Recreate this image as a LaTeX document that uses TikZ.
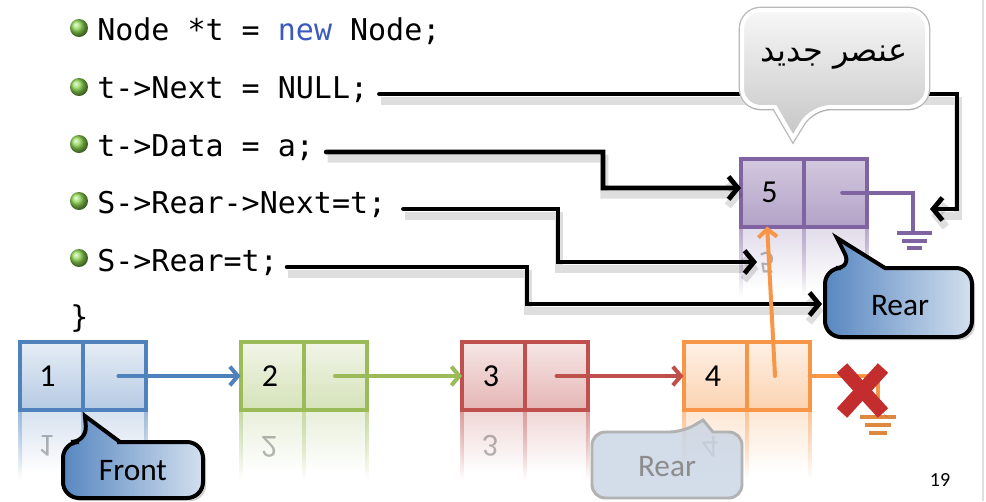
\documentclass[tikz,border=0pt]{standalone}
\usepackage{fontspec}
\usepackage{graphicx}
\setmainfont{Carlito}
\newfontfamily\codefont{DejaVu Sans Mono}
\newfontfamily\arabicfont[Script=Arabic]{DejaVu Sans}
\TeXXeTstate=1
\usetikzlibrary{arrows.meta,shadows,fadings}
\definecolor{cblue}{RGB}{79,129,189}
\definecolor{cgreen}{RGB}{155,187,89}
\definecolor{cred}{RGB}{192,80,77}
\definecolor{corange}{RGB}{247,150,70}
\definecolor{cpurple}{RGB}{128,100,162}
\definecolor{newblue}{RGB}{60,90,190}
\definecolor{bulletgreen}{RGB}{140,215,80}
\definecolor{xred}{RGB}{195,45,45}
\definecolor{oldrearfill}{RGB}{200,212,228}
\begin{document}
\begin{tikzpicture}[x=0.75pt,y=-0.75pt,
  cell/.style={draw=#1, line width=3pt, minimum width=47.25pt, minimum height=51pt,
    inner sep=0pt, outer sep=0pt, top color=#1!14!white, bottom color=#1!42!white,
    font=\fontsize{24}{28}\selectfont},
  ptr/.style={draw=#1, line width=3pt, -{Straight Barb[length=6pt,width=14pt]}, line cap=round},
  conn/.style={draw=black, line width=3.6pt, -{Straight Barb[length=7pt,width=17pt]},
    line cap=round,
    preaction={draw=black, opacity=0.13, line width=6pt, transform canvas={shift={(1pt,-5pt)}}}},
  code/.style={anchor=base west, inner sep=0pt, font=\codefont\fontsize{22.5}{27}\selectfont},
  gnd/.style={draw=#1, line width=3pt},
  bluecall/.style={draw=black, line width=3pt, left color=cblue!95!white, right color=cblue!25!white,
    drop shadow={opacity=0.35}},
  graycall/.style={top color=gray!6, bottom color=gray!45, draw=white, line width=3pt,
    preaction={draw=gray!55, line width=5pt},
    drop shadow={opacity=0.5, shadow xshift=0pt, shadow yshift=-2pt}},
  callfont/.style={font=\fontsize{23.5}{28}\selectfont},
  reflnum/.style={text opacity=0.28, font=\fontsize{24}{28}\selectfont},
]
\useasboundingbox (0,0) rectangle (986,501);
\fill[white] (0,0) rectangle (986,501);
\draw[gray!25, line width=1pt] (983,0) -- (983,501);

% bullets
\foreach \yy in {28,87,144,201,258}
  \shade[ball color=bulletgreen] (79,\yy) circle (9);

% code lines
\node[code] (c1) at (97,40) {Node *t = {\color{newblue}new} Node;};
\node[code] (c2) at (97,98) {t->Next = NULL;};
\node[code] (c3) at (97,156) {t->Data = a;};
\node[code] (c4) at (97,213) {S->Rear->Next=t;};
\node[code] (c5) at (97,271) {S->Rear=t;};
\node[code] (c6) at (70,327) {\}};

% reflections
\foreach \xa/\xb/\xc/\ya/\col in {20/83/146/412/cblue, 240.5/303.5/366.5/412/cgreen,
    462/525/588/412/cred, 683.5/746.5/809.5/412/corange, 741/804/867/229/cpurple} {
  \fill[\col!22!white, path fading=south] (\xa,\ya) rectangle (\xc,\ya+60);
  \foreach \xx in {\xa,\xb,\xc}
    \fill[\col!55!white, path fading=south] (\xx-2,\ya) rectangle (\xx+2,\ya+68);
}
\node[reflnum] (r1) at (46,446) {\scalebox{1}[-1]{1}};
\node[reflnum] (r2) at (269,447) {\scalebox{1}[-1]{2}};
\node[reflnum] (r3) at (490,446) {\scalebox{1}[-1]{3}};
\node[reflnum] (r4) at (710,447) {\scalebox{1}[-1]{4}};
\node[reflnum] (r5) at (767,263) {\scalebox{1}[-1]{5}};

% old rear callout (faded)
\draw[fill=oldrearfill, fill opacity=0.8, draw=gray!60, line width=2.2pt, rounded corners=10]
  (650,432) -- (683,432) [sharp corners] -- (703,420) -- (713,432) [rounded corners=10]
  -- (742,432) -- (742,498) -- (592,498) -- (592,432) -- cycle;
\node[callfont, text=gray!90] (oldrear) at (667,467) {Rear};

% list nodes
\node[cell=cblue] (n1d) at (51.5,376) {\hspace*{-6pt}1};
\node[cell=cblue] (n1p) at (114.5,376) {};
\node[cell=cgreen] (n2d) at (272,376) {\hspace*{-3pt}2};
\node[cell=cgreen] (n2p) at (335,376) {};
\node[cell=cred] (n3d) at (493.5,376) {\hspace*{-3.75pt}3};
\node[cell=cred] (n3p) at (556.5,376) {};
\node[cell=corange] (n4d) at (715,376) {\hspace*{-3pt}4};
\node[cell=corange] (n4p) at (778,376) {};
\node[cell=cpurple, top color=cpurple!35!white, bottom color=cpurple!60!white] (n5d) at (772.5,192.5) {\hspace*{-4.5pt}5};
\node[cell=cpurple, top color=cpurple!35!white, bottom color=cpurple!60!white] (n5p) at (835.5,192.5) {};

\draw[ptr=cblue] ([xshift=3pt]n1p.center) -- (n2d.west);
\draw[ptr=cgreen] (n2p.center) -- (n3d.west);
\draw[ptr=cred] (n3p.center) -- (n4d.west);

% purple null pointer + ground
\coordinate (g5) at (913,233);
\draw[ptr=cpurple, -] ([xshift=5pt]n5p.center) -| (g5);
\draw[gnd=cpurple] (897,233) -- (932,233) (902,241) -- (927,241) (907,248) -- (922,248);

% connectors
\coordinate (nullend) at (930,209);
\coordinate (n5refl) at (757,262);
\coordinate (rearW) at (822,304);
\draw[conn] ([xshift=8.25pt,yshift=3pt]c2.base east) -| ([xshift=20.25pt]nullend) -- (nullend);
\draw[conn] ([xshift=9pt,yshift=3pt]c3.base east) -| (603,188) -- ([yshift=3.4pt]n5d.west);
\draw[conn] ([xshift=12.75pt,yshift=3pt]c4.base east) -| (558,262) -- (n5refl);
\draw[conn] ([xshift=6.75pt,yshift=3pt]c5.base east) -| (527,304) -- (rearW);

% orange pointers
\coordinate (g4) at (878,417);
\draw[ptr=corange, -] (n4p.east) -| (g4);
\draw[gnd=corange!90!black] (860,417) -- (896,417) (865,425) -- (891,425) (869,433) -- (887,433);
\draw[ptr=corange] ([xshift=-2.25pt]n4p.center) -- ([xshift=-4pt]n5d.south);

% red cross
\draw[xred, line width=10.5pt,
  preaction={draw=black, opacity=0.25, transform canvas={shift={(3pt,-3pt)}}}]
  (842,368) -- (883,413) (883,368) -- (842,413);

% new element callout
\draw[graycall] (834,10) [rounded corners=14] -- (927,10) -- (927,107) -- (812,107)
  [sharp corners] -- (793,138) -- (775,107) [rounded corners=14] -- (742,107) -- (742,10) -- cycle;
\node[font=\arabicfont\fontsize{24}{28}\selectfont] (newel) at (834,57) {\beginR عنصر جديد\endR};

% Rear callout
\draw[bluecall] (930,268) [rounded corners=12] -- (972,268) -- (972,337) -- (825,337) -- (825,268)
  -- (852,268) [sharp corners] -- (837,238) -- (885,268) [rounded corners=12] -- cycle;
\node[callfont] (rear) at (900,306) {Rear};

% Front callout
\draw[bluecall] (133,442) [rounded corners=12] -- (203,442) -- (203,498) -- (63,498) -- (63,442)
  -- (87,442) [sharp corners] -- (85,416) -- (120,442) [rounded corners=12] -- cycle;
\node[callfont] (front) at (133,471) {Front};

\node[font=\fontsize{15}{17}\selectfont] (pg) at (940,480) {19};
\end{tikzpicture}
\end{document}
